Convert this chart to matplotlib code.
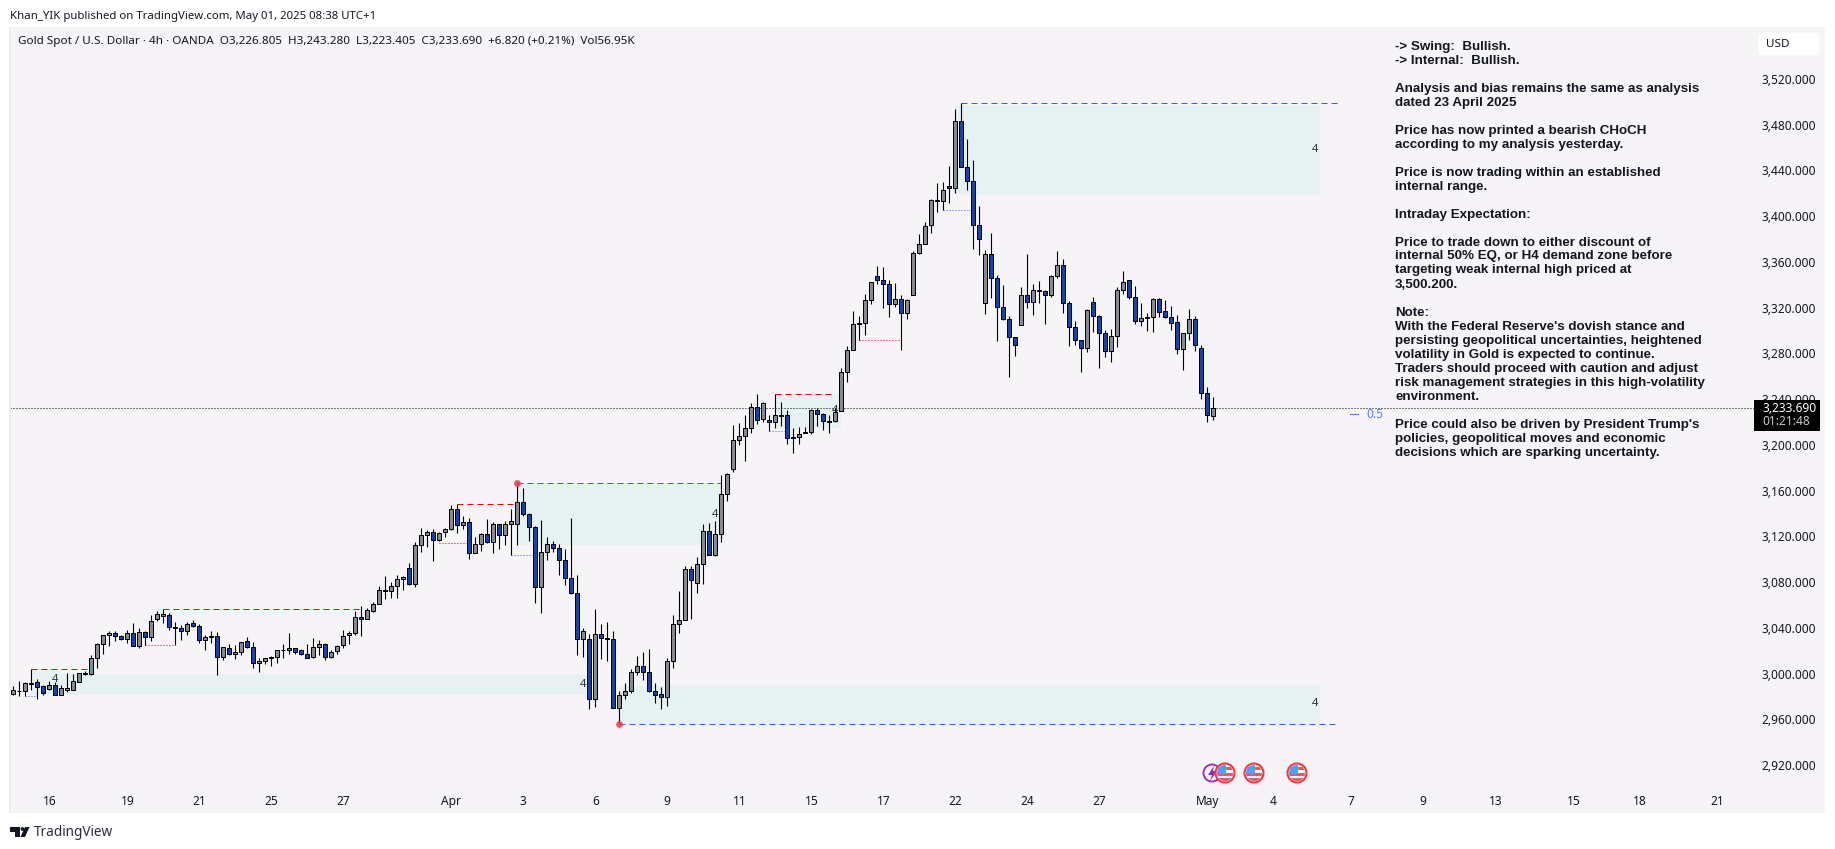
import matplotlib
matplotlib.use('Agg')
import matplotlib.pyplot as plt
from matplotlib.patches import Rectangle, Circle, FancyBboxPatch, Polygon
from matplotlib.transforms import ScaledTranslation
import numpy as np

plt.rcParams['font.family'] = ['Noto Sans', 'DejaVu Sans']

# Candles, 4h bars
highs = [
    2990.9,2995.3,2994.4,3005.5,2996.8,2991.8,2995.3,2994.1,2991.5,3002.0,
    3001.1,3002.6,3004.0,3017.7,3028.2,3035.8,3038.7,3038.7,3035.2,3039.9,
    3045.7,3041.3,3038.7,3053.0,3056.5,3058.0,3054.5,3046.6,3044.0,3046.6,
    3048.3,3044.9,3035.8,3038.7,3037.8,3024.7,3027.4,3026.5,3029.7,3033.5,
    3029.1,3015.1,3015.1,3016.9,3022.1,3027.4,3036.9,3023.9,3023.0,3027.4,
    3032.6,3030.9,3028.2,3022.1,3026.5,3039.6,3038.7,3056.5,3060.9,3058.8,
    3064.1,3078.1,3086.8,3081.6,3087.7,3086.8,3098.2,3116.5,3128.8,3127.3,
    3127.9,3125.3,3128.8,3148.9,3149.7,3139.5,3137.5,3120.9,3124.4,3136.6,
    3134.0,3132.2,3134.9,3145.4,3168.1,3163.7,3141.9,3130.5,3135.8,3120.9,
    3117.4,3114.8,3110.7,3137.5,3087.7,3041.3,3036.1,3058.0,3044.8,3046.6,
    3038.7,2986.2,2993.2,3005.5,3016.9,3020.4,3023.0,2993.2,2989.8,3015.1,
    3052.7,3073.7,3095.5,3095.5,3103.4,3132.2,3133.1,3134.9,3175.1,3176.8,
    3218.8,3220.5,3227.5,3238.0,3245.9,3238.9,3227.5,3245.9,3238.9,3231.9,
    3216.2,3217.0,3217.0,3232.8,3233.7,3229.3,3227.5,3233.7,3268.6,3287.8,
    3318.7,3314.0,3333.3,3343.8,3357.7,3356.9,3345.5,3342.9,3332.4,3328.9,
    3370.9,3385.7,3396.2,3416.3,3430.3,3431.2,3445.5,3495.3,3500.2,3468.8,
    3450.4,3410.2,3371.7,3386.6,3349.9,3341.1,3314.0,3295.7,3339.4,3368.2,
    3342.0,3344.6,3336.8,3349.9,3370.9,3363.9,3327.2,3309.7,3293.1,3320.2,
    3330.6,3314.9,3301.8,3302.7,3339.4,3353.4,3345.5,3340.3,3325.4,3316.7,
    3329.8,3329.8,3328.0,3322.8,3314.9,3299.2,3320.2,3314.0,3288.7,3252.0,3243.3,
]
lows = [
    2983.1,2982.5,2982.2,2987.4,2979.6,2983.4,2987.7,2983.4,2983.4,2985.7,
    2987.7,2994.7,3000.8,3000.8,3006.7,3018.9,3025.9,3030.6,3031.4,3028.8,
    3025.6,3024.4,3026.5,3030.6,3048.0,3046.0,3040.2,3026.8,3031.2,3035.8,
    3042.8,3028.8,3022.4,3028.8,3000.6,3014.0,3018.3,3014.5,3018.3,3023.9,
    3007.0,3003.2,3010.2,3008.4,3011.0,3015.7,3018.9,3018.9,3018.0,3015.7,
    3015.1,3018.0,3013.4,3015.7,3019.2,3024.4,3027.6,3035.5,3034.9,3049.2,
    3055.3,3062.3,3067.0,3068.2,3068.2,3075.2,3078.9,3077.8,3108.4,3112.7,
    3100.5,3117.7,3121.5,3127.3,3125.0,3128.5,3101.9,3106.9,3108.9,3116.2,
    3107.5,3110.7,3113.9,3105.2,3114.2,3139.8,3117.9,3063.8,3055.0,3101.4,
    3107.8,3088.2,3079.5,3071.0,3018.3,3016.5,2971.1,2972.9,3014.8,3013.1,
    2971.4,2957.7,2979.6,2985.1,3000.8,2996.4,2986.0,2976.4,2971.1,2973.7,
    3007.0,3037.5,3048.3,3049.8,3072.5,3079.8,3105.2,3104.3,3116.8,3152.9,
    3178.3,3201.9,3187.9,3211.8,3220.3,3221.4,3213.6,3216.5,3217.9,3202.2,
    3194.9,3202.8,3211.8,3210.9,3218.5,3215.0,3212.4,3221.4,3231.0,3256.9,
    3284.3,3293.1,3297.7,3325.1,3342.3,3321.6,3313.7,3321.9,3284.9,3312.0,
    3332.4,3368.2,3377.0,3387.2,3405.5,3406.7,3413.4,3422.2,3444.3,3424.2,
    3373.2,3367.9,3316.4,3330.4,3292.8,3311.1,3261.3,3279.1,3306.2,3321.6,
    3315.5,3326.0,3307.6,3331.2,3347.9,3317.3,3288.4,3289.3,3265.7,3283.2,
    3300.1,3269.2,3278.8,3274.4,3287.5,3333.9,3328.9,3307.6,3305.9,3301.5,
    3300.6,3313.2,3312.3,3302.4,3281.4,3267.4,3293.6,3284.0,3242.1,3222.0,3223.4,
]
opens = [
    2984.2,2986.3,2986.3,2993.0,2994.1,2990.6,2988.6,2991.5,2983.4,2987.4,
    2987.7,2994.7,3001.7,3001.7,3015.1,3027.4,3035.2,3036.9,3034.3,3031.7,
    3036.9,3025.6,3037.8,3033.5,3049.2,3052.4,3052.7,3042.2,3041.3,3038.7,
    3045.7,3043.1,3030.9,3033.5,3034.3,3016.0,3023.9,3018.6,3020.4,3030.0,
    3024.7,3010.7,3012.5,3015.7,3016.0,3022.1,3022.1,3023.9,3022.1,3018.6,
    3016.0,3024.7,3027.4,3016.0,3021.2,3026.5,3035.2,3036.9,3050.9,3049.2,
    3056.2,3062.3,3073.7,3073.7,3078.1,3084.2,3093.8,3079.8,3113.9,3122.6,
    3125.3,3118.3,3125.3,3127.9,3145.4,3131.4,3134.0,3106.9,3114.8,3123.5,
    3116.5,3132.2,3122.6,3132.2,3132.2,3151.5,3141.0,3129.6,3077.2,3107.8,
    3114.8,3111.3,3100.8,3085.0,3071.9,3031.7,3031.7,2979.3,3036.1,3032.9,
    3031.7,2971.4,2982.8,2986.2,3002.9,3008.1,3002.9,2986.2,2983.6,2981.0,
    3012.5,3044.8,3048.3,3092.9,3080.7,3097.3,3126.1,3105.2,3123.5,3158.5,
    3180.3,3205.7,3209.2,3216.2,3234.5,3224.0,3223.2,3221.4,3227.2,3227.5,
    3208.3,3208.3,3212.4,3212.7,3231.9,3228.4,3222.6,3222.3,3231.0,3265.1,
    3284.3,3307.3,3307.9,3328.0,3349.0,3345.5,3342.0,3324.5,3328.9,3316.7,
    3332.4,3369.1,3377.0,3393.6,3415.2,3414.6,3427.7,3425.9,3484.5,3444.3,
    3432.1,3393.6,3325.4,3368.2,3347.3,3321.9,3311.4,3295.7,3306.2,3332.4,
    3326.3,3336.5,3335.9,3332.4,3349.0,3358.6,3325.4,3304.4,3293.1,3286.1,
    3326.3,3314.0,3299.2,3283.4,3296.6,3336.8,3345.5,3330.6,3309.7,3312.3,
    3313.2,3328.9,3318.4,3313.2,3308.8,3285.2,3299.2,3311.4,3286.1,3246.7,3226.8,
]
closes = [
    2987.1,2986.9,2993.3,2993.9,2990.4,2985.1,2991.5,2983.4,2988.9,2988.9,
    2995.0,3002.0,3002.3,3015.1,3027.4,3035.2,3036.9,3034.3,3031.7,3036.9,
    3025.6,3037.8,3033.5,3047.5,3053.6,3053.6,3042.2,3041.3,3038.7,3044.9,
    3043.1,3030.9,3033.5,3034.3,3016.0,3024.7,3018.6,3020.4,3029.1,3024.7,
    3010.7,3012.5,3015.1,3016.3,3022.1,3022.4,3023.9,3020.4,3018.6,3015.7,
    3024.7,3027.4,3016.0,3020.4,3025.6,3034.3,3036.9,3050.9,3049.2,3057.1,
    3062.3,3074.6,3074.6,3078.1,3084.2,3085.9,3079.8,3113.9,3122.6,3125.3,
    3118.3,3124.4,3127.9,3145.4,3131.4,3134.0,3106.9,3114.8,3123.5,3116.5,
    3132.2,3122.6,3132.2,3134.9,3151.5,3141.0,3129.6,3077.2,3107.8,3114.8,
    3111.3,3100.8,3085.0,3071.9,3031.7,3038.7,2979.3,3036.1,3032.6,3032.3,
    2971.4,2982.8,2986.2,3002.9,3008.1,3002.9,2986.2,2982.8,2981.0,3012.5,
    3044.8,3048.3,3092.9,3083.3,3097.3,3126.1,3105.2,3123.5,3158.5,3175.9,
    3205.7,3209.2,3216.2,3234.5,3223.2,3238.0,3221.4,3227.5,3227.8,3207.4,
    3207.4,3210.9,3213.0,3231.9,3228.4,3222.3,3222.0,3230.1,3265.1,3284.3,
    3307.0,3307.9,3328.0,3343.8,3345.5,3342.0,3324.5,3328.9,3316.7,3328.0,
    3369.1,3377.0,3392.7,3415.5,3415.7,3424.2,3425.9,3484.5,3444.3,3432.1,
    3393.6,3381.4,3368.2,3347.3,3321.9,3311.4,3295.7,3288.7,3332.4,3326.3,
    3336.8,3337.1,3332.4,3349.0,3358.6,3325.4,3304.4,3293.1,3286.1,3319.3,
    3314.0,3299.2,3283.4,3296.6,3336.8,3343.8,3330.6,3309.7,3312.3,3313.2,
    3328.9,3317.5,3313.2,3307.9,3285.2,3299.2,3311.4,3288.7,3246.7,3227.5,3233.69,
]

# Zones: first bar, last bar, top price, bottom price
zones = [
    (3, 8, 3005.5, 2983.1),
    (8, 95.6, 3001.4, 2983.1),
    (84, 118, 3168.1, 3114.2),
    (101, 217.8, 2990.9, 2957.4),
    (127, 138, 3245.9, 3216.2),
    (157, 217.8, 3499.1, 3421.0),
]
# Horizontal levels: first bar, last bar, price
swing_levels = [(84, 118, 3168.1), (101, 221, 2957.7), (158, 221, 3500.2)]
bos_levels = [(3, 13, 3005.5), (25, 58, 3058.0), (74, 84, 3149.7), (127, 137, 3245.9)]
low_dots = [(2, 4, 2981.9), (83, 88, 3105.2), (126, 129, 3213.6), (155, 160, 3406.7)]
high_dots = [(22, 27, 3026.5), (71, 76, 3116.2), (141, 148, 3293.1)]
pivots = [(84, 3168.1), (101, 2957.7)]
zone_marks = [(7, 2996.8), (95, 2992.4), (117, 3140.7), (137, 3232), (217, 3459.5), (217, 2976)]

last_price = 3233.69
price_ticks = list(range(2920, 3521, 40))
time_ticks = [6, 19, 31, 43, 55, 73, 85, 97, 109, 121, 133, 145, 157, 169, 181, 199,
              210, 223, 235, 247, 260, 271, 284]
time_labels = ['16', '19', '21', '25', '27', 'Apr', '3', '6', '9', '11', '15', '17', '22', '24', '27',
               'May', '4', '7', '9', '13', '15', '18', '21']

header = 'Gold Spot / U.S. Dollar · 4h · OANDA  O3,226.805  H3,243.280  L3,223.405  C3,233.690  +6.820 (+0.21%)  Vol56.95K'
notes = [
    "-> Swing:  Bullish.", "-> Internal:  Bullish.", "",
    "Analysis and bias remains the same as analysis", "dated 23 April 2025", "",
    "Price has now printed a bearish CHoCH", "according to my analysis yesterday.", "",
    "Price is now trading within an established", "internal range.", "",
    "Intraday Expectation:", "",
    "Price to trade down to either discount of", "internal 50% EQ, or H4 demand zone before",
    "targeting weak internal high priced at", "3,500.200.", "",
    "Note:", "With the Federal Reserve's dovish stance and",
    "persisting geopolitical uncertainties, heightened", "volatility in Gold is expected to continue.",
    "Traders should proceed with caution and adjust", "risk management strategies in this high-volatility",
    "environment.", "",
    "Price could also be driven by President Trump's", "policies, geopolitical moves and economic",
    "decisions which are sparking uncertainty.",
]

W, H = 1835, 849
fig = plt.figure(figsize=(W / 100, H / 100), dpi=100, facecolor='white')

# price pane, 6 px per bar and 1.144 px per dollar
left, right, top, bottom = 10, 1825, 27, 813
ax = fig.add_axes([left / W, 1 - bottom / H, (right - left) / W, (bottom - top) / H])
ax.set_facecolor('#f6f4f6')
ax.set_xlim((left - 13.3) / 6, (right - 13.3) / 6)
ax.set_ylim(last_price + (408.3 - bottom) / 1.144, last_price + (408.3 - top) / 1.144)
for s in ax.spines.values():
    s.set_visible(False)

for x0, x1, p0, p1 in zones:
    ax.add_patch(Rectangle((x0, p1), x1 - x0, p0 - p1, facecolor='#e6f1f2', edgecolor='none', zorder=1))

line = 0.72
for x0, x1, p in swing_levels:
    ax.plot([x0, x1], [p, p], color='#2962ff', lw=line, ls=(0, (6, 4)), zorder=2)
for x0, x1, p in bos_levels:
    ax.plot([x0, x1], [p, p], color='#f00000', lw=line, ls=(0, (6, 4)), zorder=2)
for x0, x1, p in low_dots:
    ax.plot([x0, x1], [p, p], color='#2962ff', lw=line, ls=(0, (1, 2)), zorder=2)
for x0, x1, p in high_dots:
    ax.plot([x0, x1], [p, p], color='#f00000', lw=line, ls=(0, (1, 2)), zorder=2)

ax.plot([(left - 13.3) / 6, (1754 - 13.3) / 6], [last_price, last_price], color='black',
        lw=line, ls=(0, (1, 2)), zorder=2)

for k, p in zone_marks:
    ax.text(k, p, '4', color='#333333', fontsize=8, ha='center', va='center', zorder=2)

# candles
xs = np.arange(len(closes))
o = np.array(opens)
c = np.array(closes)
colors = np.where(c >= o, '#868b93', '#1040c4')
ax.vlines(xs, lows, highs, color='black', lw=line * 1.1, zorder=3)
ax.bar(xs, np.abs(c - o), 0.64, np.minimum(o, c), color=colors, edgecolor='black', linewidth=line, zorder=4)

ax.scatter([p[0] for p in pivots], [p[1] for p in pivots], s=24, color='#f23645', alpha=0.85,
           linewidths=0, zorder=5)

ax.set_yticks(price_ticks)
ax.set_yticklabels([f'{v:,.3f}' for v in price_ticks])
ax.yaxis.tick_right()
ax.tick_params(axis='y', length=0, pad=-45.5, labelsize=8.6, labelcolor='#131722')
# price labels sit a touch above their level
for lab in ax.get_yticklabels():
    lab.set_transform(lab.get_transform() + ScaledTranslation(0, 2 / 100, fig.dpi_scale_trans))
ax.set_xticks(time_ticks)
ax.set_xticklabels(time_labels)
ax.tick_params(axis='x', length=0, pad=-13, labelsize=8.6, labelcolor='#131722')

# overlay in pixel coordinates for the chrome around the chart
ov = fig.add_axes([0, 0, 1, 1], zorder=5)
ov.set_xlim(0, W)
ov.set_ylim(H, 0)
ov.axis('off')

ov.add_patch(Rectangle((9, top), 1.5, bottom - top, facecolor='#ebebeb', edgecolor='none'))
ov.text(10, 16, 'Khan_YIK published on TradingView.com, May 01, 2025 08:38 UTC+1', fontsize=8.2,
        color='#131722', va='center')
ov.text(18, 41.5, header, fontsize=8.4, color='#131722', va='center')

for i, txt in enumerate(notes):
    if txt:
        ov.text(1395, 46.5 + 14 * i, txt, fontsize=9.6, fontweight='bold', family='Liberation Sans',
                color='#131722', va='center')

ov.add_patch(FancyBboxPatch((1760, 34), 58, 20, boxstyle='round,pad=0,rounding_size=3',
                            facecolor='white', edgecolor='white', lw=2))
ov.text(1766, 44, 'USD', fontsize=8.4, color='#131722', va='center')

ov.add_patch(Rectangle((1754, 400), 66, 31, facecolor='black', edgecolor='none'))
ov.text(1762, 408, '3,233.690', fontsize=8.6, color='white', va='center')
ov.text(1762, 421.5, '01:21:48', fontsize=8.6, color='#c8c8c8', va='center')

# 50% EQ tag
ov.plot([1350, 1358], [414, 414], color='#2962ff', lw=0.8, alpha=0.8)
ov.text(1366, 414, '0.5', fontsize=8.6, color='#2962ff', alpha=0.8, va='center')

# event icons along the bottom
ov.add_patch(Circle((1212, 773), 8.5, facecolor='#f6f4f6', edgecolor='#9c27b0', lw=1.3))
ov.add_patch(Polygon([[1214, 766], [1208, 775], [1212, 775], [1210, 781], [1217, 771], [1213, 771]],
                     facecolor='#9c27b0', edgecolor='none'))
for cx in [1225, 1254, 1297]:
    ov.add_patch(Circle((cx, 773), 9.5, facecolor='white', edgecolor='#f23645', lw=1.5))
    clip = Circle((cx, 773), 8, transform=ov.transData)
    for r in [Rectangle((cx - 8, 767), 16, 2.5, facecolor='#f7525f', edgecolor='none'),
              Rectangle((cx - 8, 773), 16, 2.5, facecolor='#f7525f', edgecolor='none'),
              Rectangle((cx - 8, 778), 16, 3.5, facecolor='#f7525f', edgecolor='none'),
              Rectangle((cx - 8, 765), 8.5, 8.5, facecolor='#42a5f5', edgecolor='none')]:
        ov.add_patch(r)
        r.set_clip_path(clip)

# TradingView logo and name
ov.add_patch(Polygon([[10, 827], [20, 827], [20, 837], [15, 837], [15, 831.5], [10, 831.5]],
                     facecolor='#131722', edgecolor='none'))
ov.add_patch(Circle((22.5, 829), 1.9, facecolor='#131722', edgecolor='none'))
ov.add_patch(Polygon([[25, 827], [29.5, 827], [25, 837], [20.5, 837]], facecolor='#131722', edgecolor='none'))
ov.text(34, 832, 'TradingView', fontsize=9.8, color='#2a2e39', va='center')

fig.savefig('out.png', dpi=100, facecolor='white')
